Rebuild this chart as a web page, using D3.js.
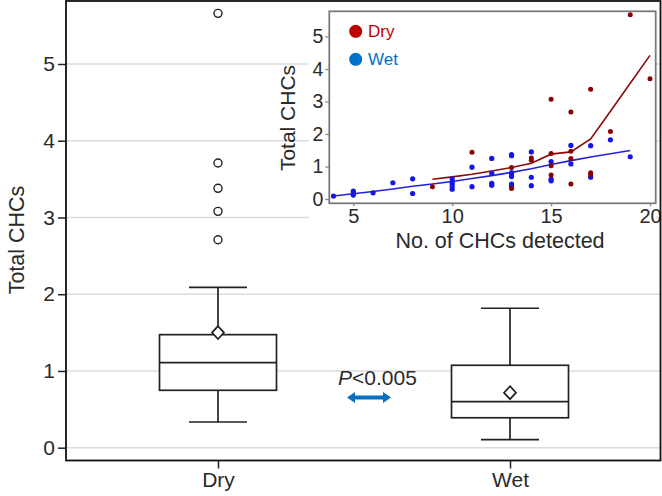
<!DOCTYPE html>
<html><head><meta charset="utf-8">
<script src="https://cdn.jsdelivr.net/npm/d3@7/dist/d3.min.js"></script>
<style>body{margin:0;background:#fff;} svg{display:block;font-family:"Liberation Sans",Arial,sans-serif;}</style>
</head><body>
<svg id="chart" width="662" height="496"></svg>
<script>
// ---- main box plot data ----
const categories = ["Dry", "Wet"];
const whiskerLow = [0.335, 0.104];
const q1 = [0.748, 0.39];
const median = [1.108, 0.60];
const q3 = [1.473, 1.074];
const whiskerHigh = [2.09, 1.817];
const means = [1.50, 0.717];
const dryOutliers = [5.66, 3.71, 3.38, 3.08, 2.71];
const mainYTicks = [0, 1, 2, 3, 4, 5];
const pLabel = "<0.005";

// ---- inset scatter data ----
const dryX = [19, 20, 17, 15, 16, 18, 11, 15, 16, 16, 14, 14, 13, 15, 15, 17, 17, 16, 13, 9];
const dryY = [5.67, 3.70, 3.38, 3.07, 2.68, 2.08, 1.44, 1.40, 1.47, 1.25, 1.26, 1.19, 0.97, 1.02, 0.74, 0.81, 0.75, 0.46, 0.32, 0.38];
const wetX = [4, 5, 5, 5, 6, 7, 8, 8, 10, 10, 10, 10, 10, 11, 11, 12, 12, 12, 12, 13, 13, 13, 13, 13, 13, 13, 14, 14, 14, 15, 15, 15, 16, 16, 17, 17, 18, 19];
const wetY = [0.09, 0.24, 0.17, 0.12, 0.19, 0.50, 0.62, 0.17, 0.62, 0.53, 0.46, 0.38, 0.30, 0.98, 0.38, 1.25, 0.79, 0.48, 0.42, 1.37, 1.33, 0.81, 0.74, 0.69, 0.46, 0.40, 1.45, 0.67, 0.41, 1.15, 0.61, 0.56, 1.65, 1.08, 1.64, 0.67, 1.82, 1.30];
const dryLineX = [9, 10, 11, 12, 13, 14, 15, 16, 17, 18, 19, 20];
const dryLineY = [0.61, 0.68, 0.76, 0.86, 0.97, 1.10, 1.38, 1.45, 1.85, 2.70, 3.56, 4.42];
const wetLineX = [4, 5, 6, 7, 8, 9, 10, 11, 12, 13, 14, 15, 16, 17, 18, 19];
const wetLineY = [0.09, 0.16, 0.23, 0.31, 0.39, 0.46, 0.54, 0.63, 0.72, 0.82, 0.93, 1.06, 1.18, 1.29, 1.39, 1.49];
const insetXTicks = [5, 10, 15, 20];
const insetYTicks = [0, 1, 2, 3, 4, 5];
const legendLabels = ["Dry", "Wet"];

const svg = d3.select("#chart");
const textCol = "#2a2a2a";

// ---- main scales ----
const frame = {x0: 66, x1: 660.5, y0: 1, y1: 460.5};
const x = d3.scalePoint().domain(categories).range([72, 656]).padding(0.5);
const y = d3.scaleLinear().domain([0, 5]).range([447.7, 64]);

// gridlines
svg.append("g").selectAll("line").data(mainYTicks).join("line")
  .attr("x1", frame.x0).attr("x2", frame.x1)
  .attr("y1", d => y(d)).attr("y2", d => y(d))
  .attr("stroke", "#dcdcdc").attr("stroke-width", 1.5);

// y axis
const yAxis = d3.axisLeft(y).tickValues(mainYTicks).tickSize(8).tickPadding(3).tickFormat(d3.format("d"));
const gy = svg.append("g").attr("transform", `translate(${frame.x0},0)`).call(yAxis);
gy.select(".domain").remove();
gy.selectAll(".tick line").attr("stroke", "#222").attr("stroke-width", 1.5);
gy.selectAll(".tick text").attr("font-size", 21).attr("fill", textCol).attr("font-family", "Liberation Sans, Arial, sans-serif");

// x axis
const xAxis = d3.axisBottom(x).tickSize(8).tickPadding(4);
const gx = svg.append("g").attr("transform", `translate(0,${frame.y1})`).call(xAxis);
gx.select(".domain").remove();
gx.selectAll(".tick line").attr("stroke", "#222").attr("stroke-width", 1.5);
gx.selectAll(".tick text").attr("font-size", 21).attr("fill", textCol).attr("font-family", "Liberation Sans, Arial, sans-serif");

// y title
svg.append("text").attr("transform", "translate(24,240) rotate(-90)")
  .attr("text-anchor", "middle").attr("font-size", 21.5).attr("fill", textCol).text("Total CHCs");

// boxes
const boxW = 117, capW = 58;
const boxes = svg.append("g");
categories.forEach((c, i) => {
  const cx = x(c);
  const g = boxes.append("g").attr("stroke", "#222").attr("stroke-width", 1.7).attr("fill", "none");
  g.append("line").attr("x1", cx).attr("x2", cx).attr("y1", y(whiskerHigh[i])).attr("y2", y(q3[i]));
  g.append("line").attr("x1", cx).attr("x2", cx).attr("y1", y(q1[i])).attr("y2", y(whiskerLow[i]));
  g.append("line").attr("x1", cx - capW / 2).attr("x2", cx + capW / 2).attr("y1", y(whiskerHigh[i])).attr("y2", y(whiskerHigh[i]));
  g.append("line").attr("x1", cx - capW / 2).attr("x2", cx + capW / 2).attr("y1", y(whiskerLow[i])).attr("y2", y(whiskerLow[i]));
  g.append("rect").attr("x", cx - boxW / 2).attr("width", boxW).attr("y", y(q3[i])).attr("height", y(q1[i]) - y(q3[i])).attr("fill", "#fff");
  g.append("line").attr("x1", cx - boxW / 2).attr("x2", cx + boxW / 2).attr("y1", y(median[i])).attr("y2", y(median[i]));
  const my = y(means[i]);
  g.append("path").attr("d", `M${cx},${my - 6.5}L${cx + 6},${my}L${cx},${my + 6.5}L${cx - 6},${my}Z`).attr("fill", "#fff");
});
// outliers
svg.append("g").selectAll("circle").data(dryOutliers).join("circle")
  .attr("cx", x("Dry")).attr("cy", d => y(d)).attr("r", 4)
  .attr("fill", "#fff").attr("stroke", "#222").attr("stroke-width", 1.4);

// P label + arrow
const pt = svg.append("text").attr("x", 338).attr("y", 385).attr("font-size", 21).attr("fill", textCol);
pt.append("tspan").attr("font-style", "italic").text("P");
pt.append("tspan").text(pLabel);
const ax0 = 347, ax1 = 391, ay = 397.5;
svg.append("path").attr("fill", "#0b6fbf")
  .attr("d", `M${ax0},${ay}L${ax0 + 8},${ay - 5.5}L${ax0 + 8},${ay - 2}L${ax1 - 8},${ay - 2}L${ax1 - 8},${ay - 5.5}L${ax1},${ay}L${ax1 - 8},${ay + 5.5}L${ax1 - 8},${ay + 2}L${ax0 + 8},${ay + 2}L${ax0 + 8},${ay + 5.5}Z`);

// ---- inset ----
svg.append("rect").attr("x", 309).attr("y", 2).attr("width", 347).attr("height", 250).attr("fill", "#fff");
const inset = {x0: 329.3, x1: 655.7, y0: 11.3, y1: 203.3};
const ix = d3.scaleLinear().domain([5, 20]).range([353.3, 650]);
const iy = d3.scaleLinear().domain([0, 5]).range([199, 36.5]);

const ig = svg.append("g");
ig.append("rect").attr("x", inset.x0).attr("y", inset.y0).attr("width", inset.x1 - inset.x0).attr("height", inset.y1 - inset.y0)
  .attr("fill", "#fff").attr("stroke", "#7a7a7a").attr("stroke-width", 1.8);

const iyAxis = d3.axisLeft(iy).tickValues(insetYTicks).tickSize(4).tickPadding(2).tickFormat(d3.format("d"));
const giy = ig.append("g").attr("transform", `translate(${inset.x0},0)`).call(iyAxis);
giy.select(".domain").remove();
giy.selectAll(".tick line").attr("stroke", "#888").attr("stroke-width", 1.3);
giy.selectAll(".tick text").attr("font-size", 19.5).attr("fill", textCol).attr("font-family", "Liberation Sans, Arial, sans-serif");

const ixAxis = d3.axisBottom(ix).tickValues(insetXTicks).tickSize(3).tickPadding(3).tickFormat(d3.format("d"));
const gix = ig.append("g").attr("transform", `translate(0,${inset.y1})`).call(ixAxis);
gix.select(".domain").remove();
gix.selectAll(".tick line").attr("stroke", "#888").attr("stroke-width", 1.3);
gix.selectAll(".tick text").attr("font-size", 20).attr("fill", textCol).attr("font-family", "Liberation Sans, Arial, sans-serif");

ig.append("text").attr("x", 500).attr("y", 248).attr("text-anchor", "middle").attr("font-size", 21.5).attr("fill", textCol).text("No. of CHCs detected");
ig.append("text").attr("transform", "translate(295,118) rotate(-90)").attr("text-anchor", "middle").attr("font-size", 21).attr("fill", textCol).text("Total CHCs");

// lines
const line = d3.line().x(d => ix(d[0])).y(d => iy(d[1]));
ig.append("path").datum(wetLineX.map((v, i) => [v, wetLineY[i]])).attr("d", line)
  .attr("fill", "none").attr("stroke", "#2222dd").attr("stroke-width", 1.6);
ig.append("path").datum(dryLineX.map((v, i) => [v, dryLineY[i]])).attr("d", line)
  .attr("fill", "none").attr("stroke", "#8b0a0a").attr("stroke-width", 1.6);

// points
ig.append("g").selectAll("circle").data(wetX.map((v, i) => [v, wetY[i]])).join("circle")
  .attr("cx", d => ix(d[0])).attr("cy", d => iy(d[1])).attr("r", 2.6).attr("fill", "#1515e8");
ig.append("g").selectAll("circle").data(dryX.map((v, i) => [v, dryY[i]])).join("circle")
  .attr("cx", d => ix(d[0])).attr("cy", d => iy(d[1])).attr("r", 2.5).attr("fill", "#8b0000");

// legend
const legCols = ["#c00000", "#0070c8"];
legendLabels.forEach((l, i) => {
  const ly = 31.3 + i * 28;
  ig.append("circle").attr("cx", 355.7).attr("cy", ly).attr("r", 6.5).attr("fill", legCols[i]);
  ig.append("text").attr("x", 368).attr("y", ly + 6).attr("font-size", 17).attr("fill", legCols[i]).text(l);
});

// main frame
svg.append("rect").attr("x", frame.x0).attr("y", frame.y0).attr("width", frame.x1 - frame.x0).attr("height", frame.y1 - frame.y0)
  .attr("fill", "none").attr("stroke", "#111").attr("stroke-width", 1.8);
</script>
</body></html>
